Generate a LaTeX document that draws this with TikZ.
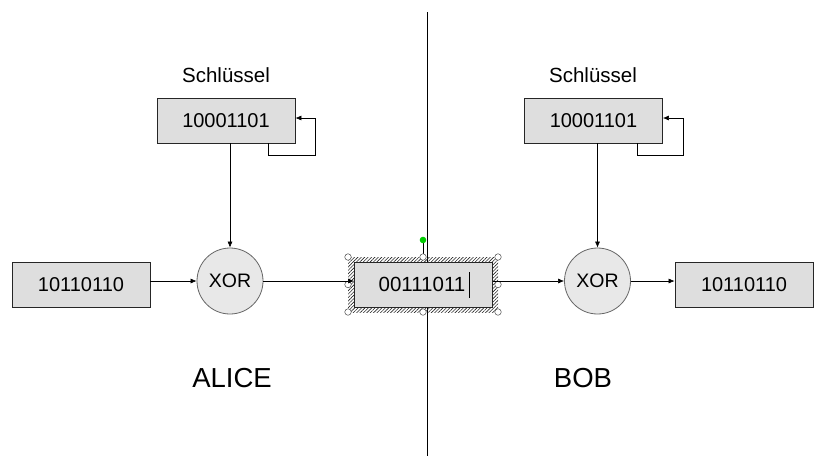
\documentclass[tikz,border=0pt]{standalone}
\usepackage{fontspec}
\setmainfont{Liberation Sans}
\usetikzlibrary{arrows.meta,patterns.meta,calc}
\begin{document}
\begin{tikzpicture}[x=1pt,y=-1pt,
  box/.style={draw=black!85, fill=black!13, minimum width=138pt, minimum height=45pt, inner sep=0pt, font=\fontsize{20}{24}\selectfont, line width=0.8pt},
  xorc/.style={circle, draw=black!60, fill=black!9, minimum size=66pt, inner sep=0pt, font=\fontsize{19.5}{23}\selectfont, line width=0.8pt},
  lbl/.style={font=\fontsize{20.5}{24}\selectfont},
  big/.style={font=\fontsize{27.5}{32}\selectfont},
  arr/.style={-{Latex[length=6pt,width=5pt]}, line width=0.6pt},
  ln/.style={line width=0.6pt},
  handle/.style={circle, draw=black!70, fill=white, line width=0.5pt, minimum size=6.5pt, inner sep=0pt}]
\useasboundingbox[fill=white] (0,0) rectangle (816,459);
% divider
\coordinate (dtop) at (427,12);
\coordinate (dbot) at (427,456);
\draw[ln] (dtop) -- (dbot);
% selection frame of middle box
\fill[pattern={Lines[angle=45,distance=2.4pt,line width=0.6pt]}, pattern color=black!85] (348,257) rectangle (498,312);
\node[box, font=\fontsize{20.5}{24}\selectfont] (mid) at (423.5,284.5) {\hspace*{-3pt}00111011};
\draw[line width=0.6pt] (469,272) -- (469,298);
\coordinate (rot) at (423,240);
\draw[line width=0.6pt] (rot) -- (423,257);
\fill[green!80!black] (rot) circle (3.3pt);
\foreach \x/\y in {348/257,423/257,498/257,348/284.5,498/284.5,348/312,423/312,498/312}
  \node[handle] at (\x,\y) {};
% Alice
\node[lbl] (schL) at (226,75) {Schlüssel};
\node[box] (keyL) at (226,120.5) {10001101};
\node[box] (inL) at (81,285) {10110110};
\node[xorc] (xorL) at (230,281) {XOR};
\node[big] (alice) at (232,378) {ALICE};
\draw[arr] ($(keyL.south east)+(-27pt,0)$) |- ++(47pt,12) coordinate (fbL) |- ($(keyL.east)+(0,2.5pt)$);
\draw[arr] (xorL.north |- keyL.south) -- (xorL.north);
\draw[arr] (xorL.west -| inL.east) -- (xorL.west);
\draw[arr] (xorL.east) -- (xorL.east -| mid.west);
% Bob
\node[lbl] (schR) at (593,75) {Schlüssel};
\node[box] (keyR) at (593.5,120.5) {10001101};
\node[xorc] (xorR) at (597.5,281) {XOR};
\node[box] (outR) at (744,285) {10110110};
\node[big] (bob) at (583,378) {BOB};
\draw[arr] ($(keyR.south east)+(-26pt,0)$) |- ++(46pt,12) coordinate (fbR) |- ($(keyR.east)+(0,2.5pt)$);
\draw[arr] (xorR.north |- keyR.south) -- (xorR.north);
\draw[arr] (xorR.west -| mid.east) -- (xorR.west);
\draw[arr] (xorR.east) -- (xorR.east -| outR.west);
\end{tikzpicture}
\end{document}
